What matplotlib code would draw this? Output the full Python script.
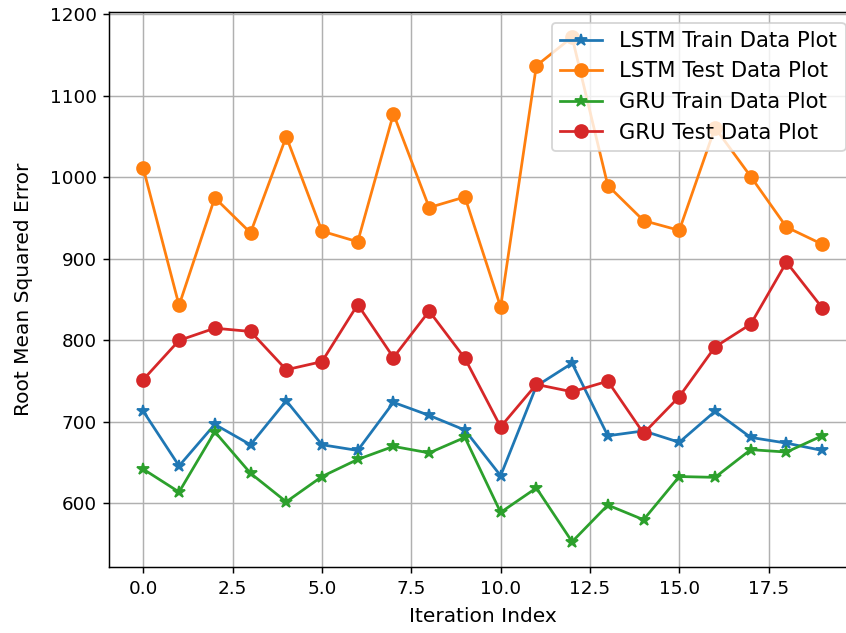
import matplotlib
matplotlib.use("Agg")
import matplotlib.pyplot as plt

iterations = list(range(20))
lstm_train = [713, 646, 697, 672, 726, 672, 665, 724, 708, 690,
              634, 744, 772, 683, 689, 675, 713, 681, 674, 665]
lstm_test = [1011, 843, 975, 932, 1050, 934, 921, 1078, 963, 976,
             841, 1137, 1172, 990, 947, 935, 1061, 1001, 939, 918]
gru_train = [642, 614, 688, 637, 602, 633, 654, 670, 662, 681,
             589, 619, 553, 598, 580, 633, 632, 666, 663, 683]
gru_test = [752, 800, 815, 811, 764, 774, 844, 779, 836, 778,
            694, 746, 737, 750, 686, 731, 792, 820, 896, 840]

fig = plt.figure(figsize=(846/132, 633/132), dpi=132)
ax = fig.add_axes([0.1293, 0.1043, 0.8827, 0.8768])

ax.plot(iterations, lstm_train, marker='*', ms=7, label='LSTM Train Data Plot')
ax.plot(iterations, lstm_test, marker='o', ms=7, label='LSTM Test Data Plot')
ax.plot(iterations, gru_train, marker='*', ms=7, label='GRU Train Data Plot')
ax.plot(iterations, gru_test, marker='o', ms=7, label='GRU Test Data Plot')

ax.set_xlabel('Iteration Index', fontsize=11, labelpad=5)
ax.set_ylabel('Root Mean Squared Error', fontsize=11, labelpad=9)
ax.grid(True)
ax.legend(loc='upper right', fontsize=11.5)

fig.savefig('out.png', dpi=132)
